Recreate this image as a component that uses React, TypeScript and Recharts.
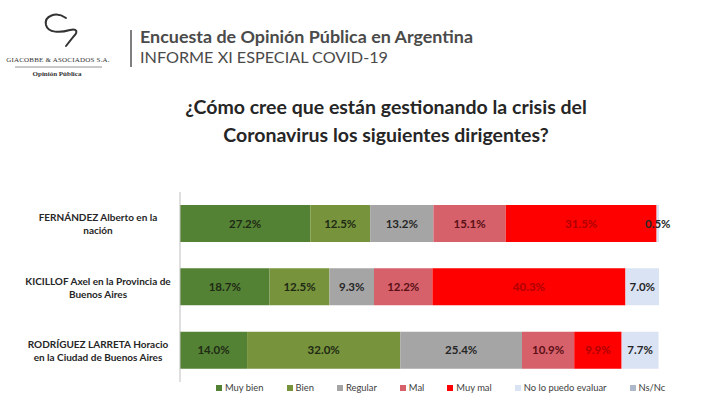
import { BarChart, Bar, XAxis, YAxis, Legend, LabelList } from "recharts";

const categories = [
  "FERNÁNDEZ Alberto en la\nnación",
  "KICILLOF Axel en la Provincia de\nBuenos Aires",
  "RODRÍGUEZ LARRETA Horacio\nen la Ciudad de Buenos Aires",
];

const seriesNames = [
  "Muy bien",
  "Bien",
  "Regular",
  "Mal",
  "Muy mal",
  "No lo puedo evaluar",
  "Ns/Nc",
];

const muyBien = [27.2, 18.7, 14.0];
const bien = [12.5, 12.5, 32.0];
const regular = [13.2, 9.3, 25.4];
const mal = [15.1, 12.2, 10.9];
const muyMal = [31.5, 40.3, 9.9];
const noEvalua = [0.5, 7.0, 7.7];
const nsnc = [0, 0, 0];

const seriesValues = [muyBien, bien, regular, mal, muyMal, noEvalua, nsnc];

// excel-ish palette
const COLORS = [
  "#548235", // muy bien
  "#77933c", // bien
  "#a5a5a5", // regular
  "#d6616b", // mal
  "#ff0000", // muy mal
  "#dae3f3", // no lo puedo evaluar
  "#adb9ca", // ns/nc
];
const LABEL_COLORS = ["#1e2a14", "#1e2a14", "#262626", "#5a0f14", "#b00000", "#262626", "#262626"];

const data = categories.map((name, i) => {
  const row: any = { name };
  seriesNames.forEach((s, j) => {
    row[s] = seriesValues[j][i];
  });
  return row;
});

const FONT = "Lato, 'Open Sans', sans-serif";

const CategoryTick = (props: any) => {
  const { y, payload } = props;
  const lines = String(payload.value).split("\n");
  return (
    <text
      x={98}
      y={y - (lines.length - 1) * 6.5}
      textAnchor="middle"
      dominantBaseline="central"
      fontFamily={FONT}
      fontWeight={700}
      fontSize={10}
      fill="#262626"
    >
      {lines.map((l, i) => (
        <tspan key={i} x={98} dy={i === 0 ? 0 : 13}>
          {l}
        </tspan>
      ))}
    </text>
  );
};

const LegendContent = (props: any) => {
  const items = [...(props.payload || [])].sort(
    (a: any, b: any) => seriesNames.indexOf(a.value) - seriesNames.indexOf(b.value)
  );
  return (
    <div style={{ display: "flex", alignItems: "center", fontFamily: FONT, fontSize: 9.4, color: "#404040", whiteSpace: "nowrap" }}>
      {items.map((it: any, i: number) => (
        <div key={i} style={{ display: "flex", alignItems: "center", marginRight: 23, flexShrink: 0 }}>
          <span style={{ width: 6, height: 6, background: it.color, display: "inline-block", marginRight: 3 }} />
          <span>{it.value}</span>
        </div>
      ))}
    </div>
  );
};

function Header() {
  return (
    <svg width={720} height={180} style={{ position: "absolute", left: 0, top: 0 }}>
      {/* logo swirl */}
      <path
        d="M 66 18 C 56 11, 44 16, 46 25 C 48 33, 60 33, 70 30 C 77 28, 78 32, 74 36 L 66 46"
        fill="none"
        stroke="#333"
        strokeWidth={2}
        strokeLinecap="round"
      />
      <text x={58} y={62} textAnchor="middle" fontFamily="'Liberation Serif', serif" fontSize={7} fill="#333" letterSpacing={0.2}>
        GIACOBBE &amp; ASOCIADOS S.A.
      </text>
      <line x1={15} y1={67} x2={102} y2={67} stroke="#777" strokeWidth={0.8} />
      <text x={57} y={76} textAnchor="middle" fontFamily="'Liberation Serif', serif" fontWeight={700} fontSize={7} fill="#333">
        Opinión Pública
      </text>
      <rect x={130} y={30} width={2} height={37} fill="#7f7f7f" />
      <text x={140} y={43} fontFamily={FONT} fontWeight={700} fontSize={17} fill="#4a4a4a" textLength={333} lengthAdjust="spacingAndGlyphs">
        Encuesta de Opinión Pública en Argentina
      </text>
      <text x={140} y={63} fontFamily={FONT} fontSize={16} fill="#4a4a4a" textLength={248} lengthAdjust="spacingAndGlyphs">
        INFORME XI ESPECIAL COVID-19
      </text>
      <text x={386} y={114} textAnchor="middle" fontFamily={FONT} fontWeight={700} fontSize={19.5} fill="#262626">
        ¿Cómo cree que están gestionando la crisis del
      </text>
      <text x={386} y={142} textAnchor="middle" fontFamily={FONT} fontWeight={700} fontSize={19.5} fill="#262626">
        Coronavirus los siguientes dirigentes?
      </text>
    </svg>
  );
}

export default function App() {
  return (
    <div style={{ position: "absolute", left: 0, top: 0, width: 720, height: 414, background: "#fff" }}>
      <BarChart
        width={720}
        height={414}
        data={data}
        layout="vertical"
        margin={{ top: 192, right: 61, bottom: 11, left: 0 }}
      >
        <XAxis type="number" domain={[0, 100]} hide />
        <YAxis
          type="category"
          dataKey="name"
          width={180}
          tick={<CategoryTick />}
          tickLine={false}
          axisLine={{ stroke: "#bfbfbf" }}
        />
        {seriesNames.map((s, j) => (
          <Bar key={s} dataKey={s} stackId="a" fill={COLORS[j]} barSize={37} isAnimationActive={false}>
            <LabelList
              dataKey={s}
              position="center"
              formatter={(v: any) => (v > 0 ? `${Number(v).toFixed(1)}%` : "")}
              fill={LABEL_COLORS[j]}
              fontFamily={FONT}
              fontWeight={700}
              fontSize={11.5}
            />
          </Bar>
        ))}
        <Legend
          verticalAlign="bottom"
          height={21}
          content={<LegendContent />}
          wrapperStyle={{ left: 216, width: 500 }}
        />
      </BarChart>
      <Header />
    </div>
  );
}
